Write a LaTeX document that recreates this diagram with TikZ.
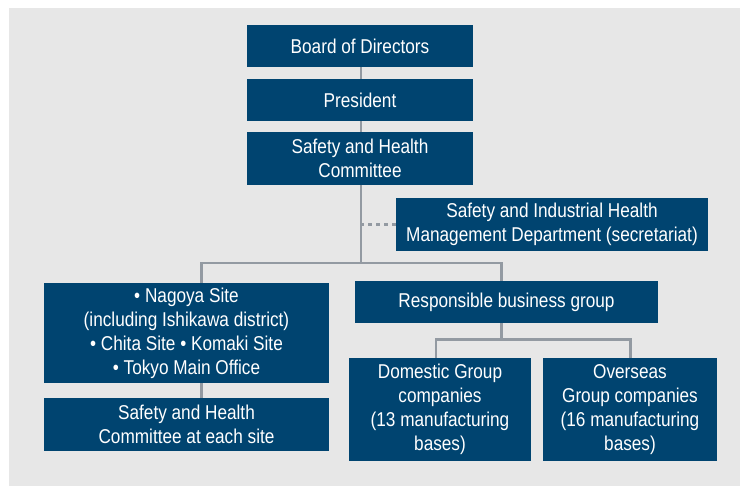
\documentclass[tikz,border=0pt]{standalone}
\usepackage{fontspec}
\setmainfont[FakeStretch=0.86]{Liberation Sans}
\definecolor{boxblue}{RGB}{0,68,112}
\definecolor{bggray}{RGB}{231,231,231}
\definecolor{linegray}{RGB}{147,154,162}
\begin{document}
\begin{tikzpicture}[x=1pt,y=1pt,
  orgbox/.style={fill=boxblue,text=white,inner sep=0pt,align=center,
    font=\fontsize{20}{24}\selectfont},
  conn/.style={draw=linegray,line width=2.6pt},
  dotconn/.style={draw=linegray,line width=2.6pt,dash pattern=on 4pt off 4pt}]
\useasboundingbox (0,0) rectangle (740,-486);
\fill[bggray] (9,-8) rectangle (740,-486);
\node[orgbox,minimum width=226,minimum height=42] (board) at (360,-46) {Board of Directors};
\node[orgbox,minimum width=226,minimum height=42] (pres) at (360,-100) {President};
\node[orgbox,minimum width=226,minimum height=53] (shc) at (360,-158.5) {Safety and Health\\Committee};
\node[orgbox,minimum width=312,minimum height=53] (sec) at (552,-224.5) {Safety and Industrial Health\\Management Department (secretariat)};
\node[orgbox,minimum width=285,minimum height=100] (sites) at (186.5,-333) {• Nagoya Site\\(including Ishikawa district)\\• Chita Site • Komaki Site\\• Tokyo Main Office};
\node[orgbox,minimum width=303,minimum height=42] (resp) at (506.5,-302) {Responsible business group};
\node[orgbox,minimum width=285,minimum height=53] (sitecom) at (186.5,-424.5) {Safety and Health\\Committee at each site};
\node[orgbox,minimum width=182,minimum height=103] (dom) at (440,-409.5) {Domestic Group\\companies\\(13 manufacturing\\bases)};
\node[orgbox,minimum width=174,minimum height=103] (ovs) at (630,-409.5) {Overseas\\Group companies\\(16 manufacturing\\bases)};
\coordinate (bm) at (361,-263);
\coordinate (bl) at (201.5,-263);
\coordinate (br) at (501.5,-263);
\coordinate (cm) at (501.5,-339.5);
\coordinate (cl) at (436,-339.5);
\coordinate (cr) at (630.5,-339.5);
\draw[conn] (board.south -| bm) -- (pres.north -| bm);
\draw[conn] (pres.south -| bm) -- (shc.north -| bm);
\draw[conn] (shc.south -| bm) -- (bm);
\draw[dotconn] (sec.west) -- (sec.west -| bm);
\draw[conn] (sites.north -| bl) -- (bl) -- (br) -- (resp.north -| br);
\draw[conn] (sites.south -| bl) -- (sitecom.north -| bl);
\draw[conn] (resp.south -| cm) -- (cm);
\draw[conn] (dom.north -| cl) -- (cl) -- (cr) -- (ovs.north -| cr);
\end{tikzpicture}
\end{document}
